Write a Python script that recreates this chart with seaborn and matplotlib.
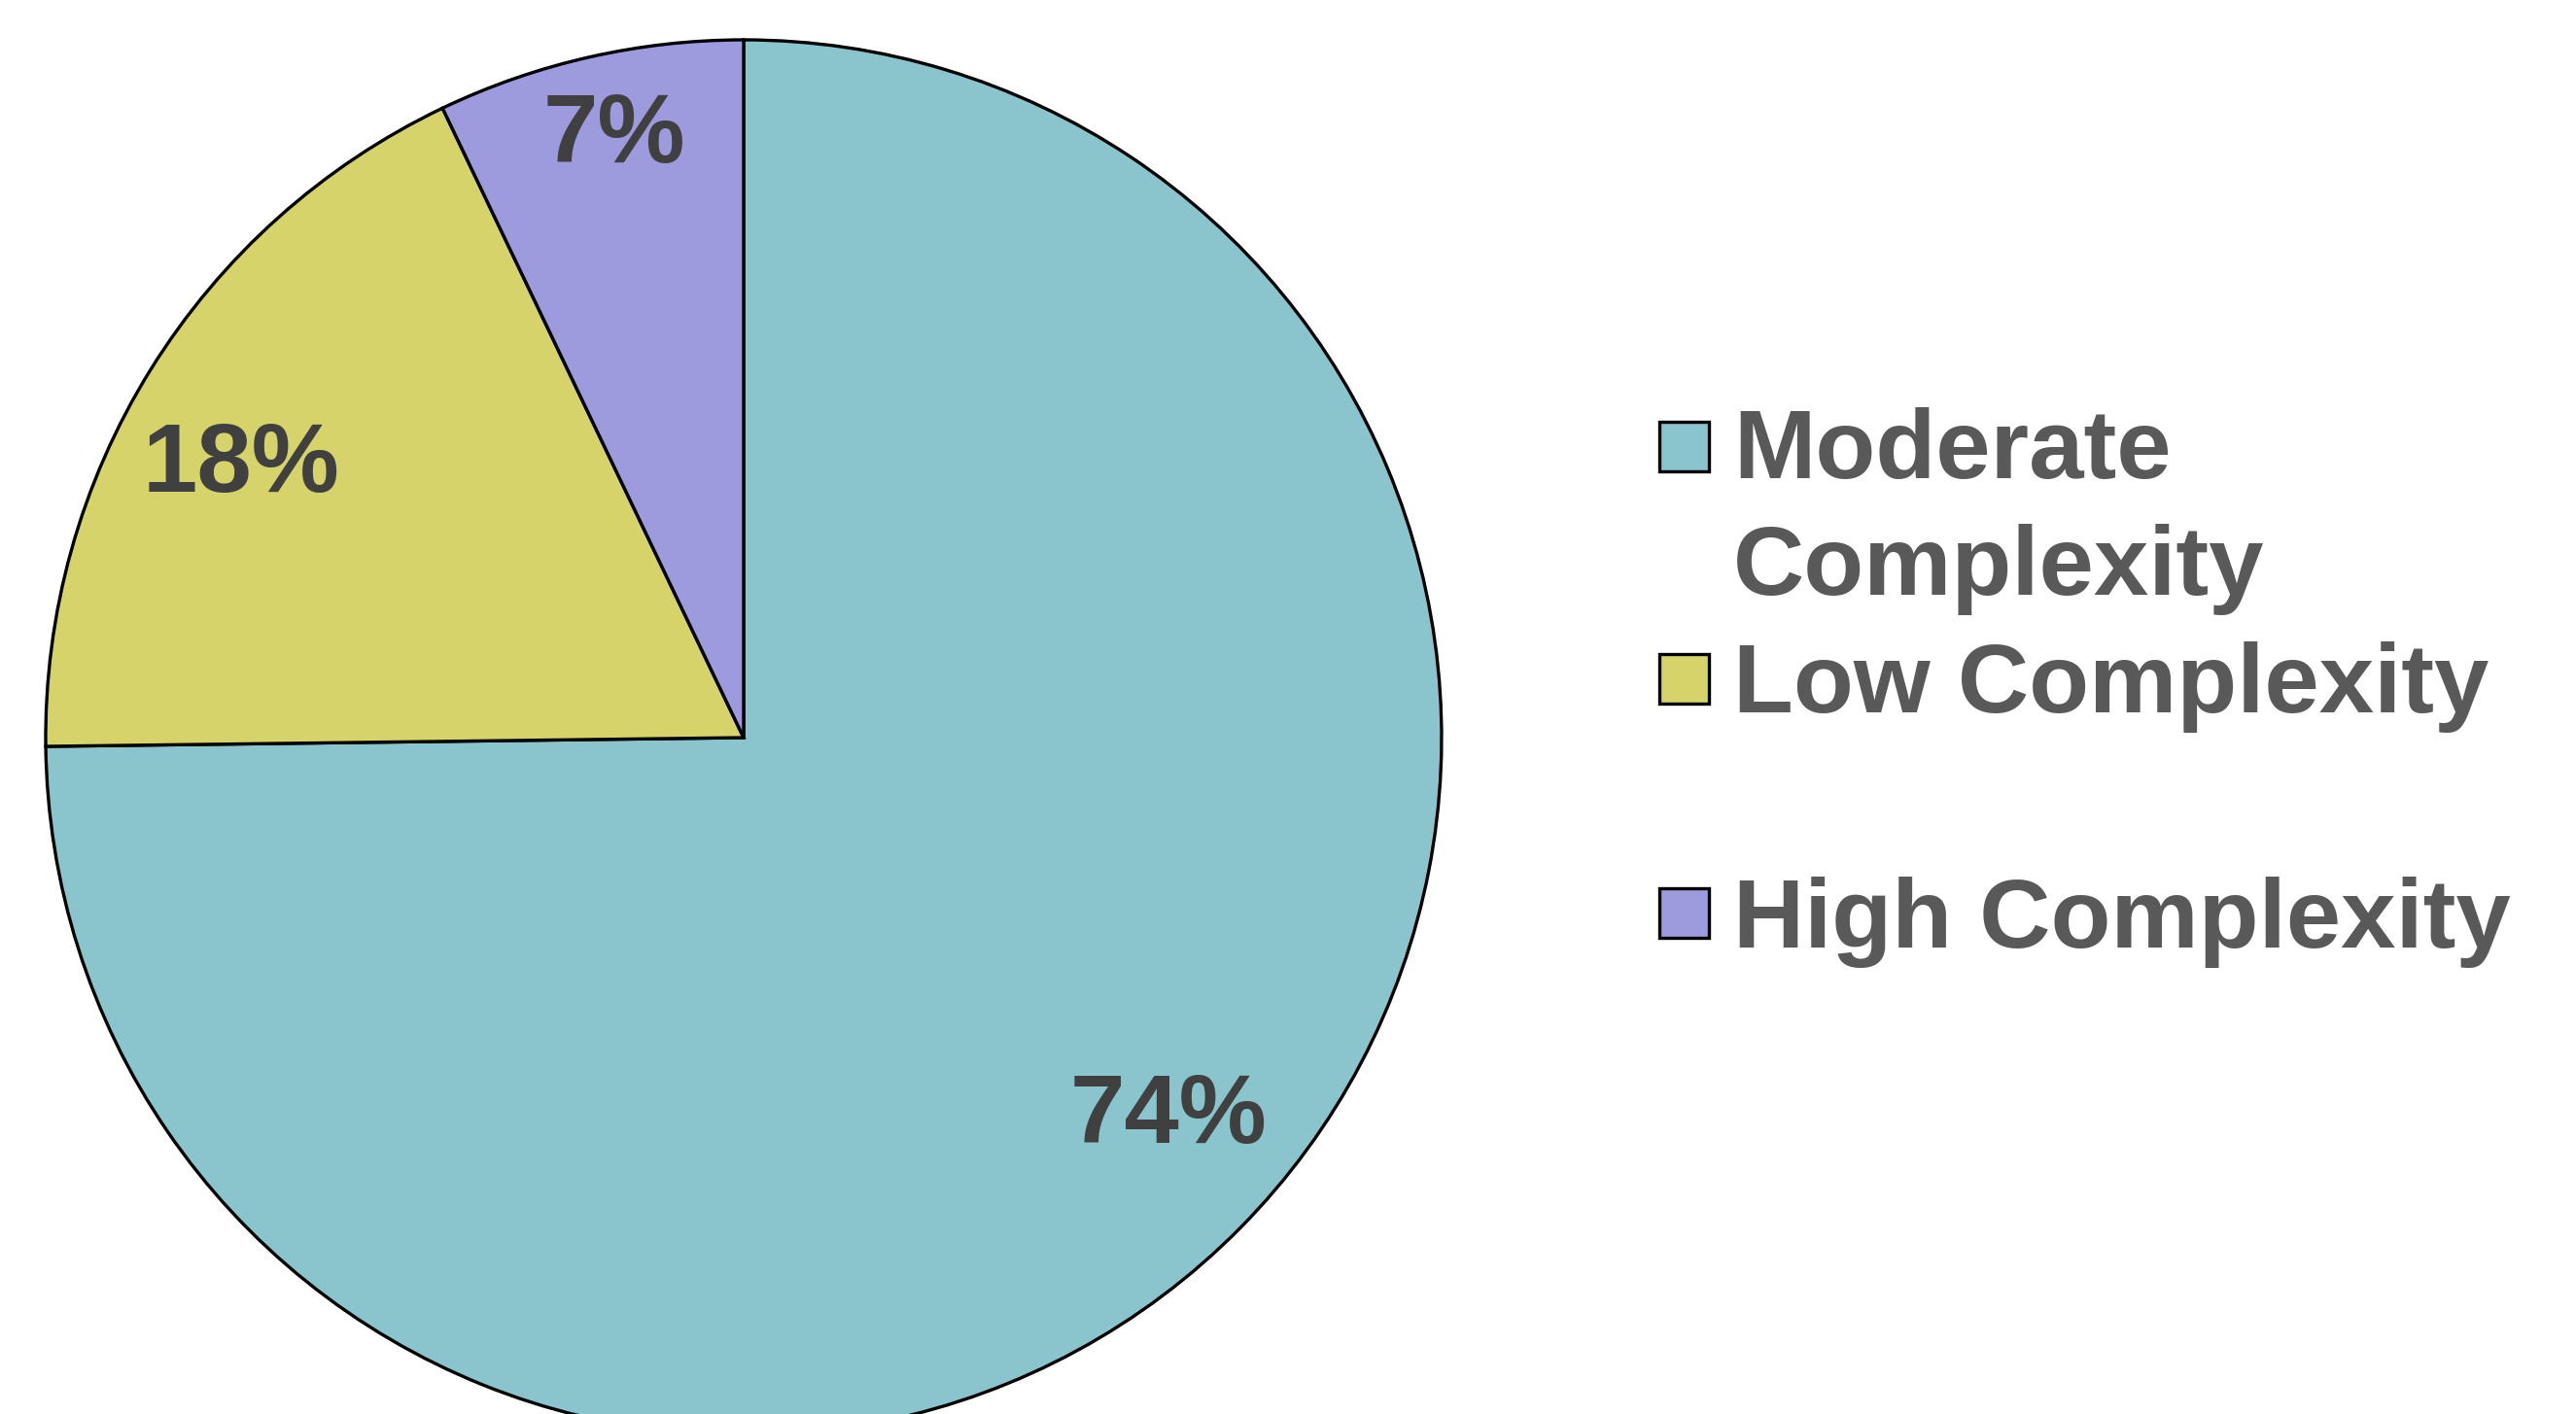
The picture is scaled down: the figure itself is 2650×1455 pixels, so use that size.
import numpy as np
import matplotlib
matplotlib.use("Agg")
import matplotlib.pyplot as plt
from matplotlib.patches import Rectangle
import seaborn as sns

# ----- data -----
categories = ["Moderate\nComplexity", "Low Complexity", "High Complexity"]
shares = [74.8, 18.1, 7.1]
pct_labels = ["74%", "18%", "7%"]
colors = ["#8AC5CE", "#D5D36A", "#9D9BDD"]
# -----------------

sns.set_theme(style="white")
plt.rcParams["font.family"] = ["Liberation Sans", "DejaVu Sans"]

W, H = 2650, 1455
fig = plt.figure(figsize=(W / 100, H / 100), dpi=100)

# pie centre and radius in pixels
cx, cy, R = 765, 759, 718
ax = fig.add_axes([(cx - R) / W, 1 - (cy + R) / H, 2 * R / W, 2 * R / H])

wedges, _ = ax.pie(
    shares, colors=colors, startangle=90, counterclock=False, radius=1,
    wedgeprops=dict(edgecolor="black", linewidth=2.4),
)
for w in wedges:
    w.set_clip_on(False)

# label placement: radial distance and small angular nudge from wedge middle
label_dist = [0.817, 0.819, 0.881]
label_nudge = [2.8, 3.5, -0.6]
for w, txt, d, nd in zip(wedges, pct_labels, label_dist, label_nudge):
    mid = np.deg2rad((w.theta1 + w.theta2) / 2 + nd)
    ax.text(d * np.cos(mid), d * np.sin(mid), txt, ha="center", va="center",
            fontsize=73, fontweight="bold", color="#404040")

ax.set_xlim(-1, 1)
ax.set_ylim(-1, 1)
ax.set_aspect("equal")
ax.axis("off")

# legend drawn by hand to keep Excel-like spacing
patch_tops = [434, 673, 914]
baselines = [612, 733, 975]   # baseline of the last line of each entry
for lab, col, pt, bl in zip(categories, colors, patch_tops, baselines):
    fig.patches.append(Rectangle((1707 / W, 1 - (pt + 51) / H), 51 / W, 51 / H,
                                 transform=fig.transFigure, facecolor=col,
                                 edgecolor="black", linewidth=2.4))
    fig.text(1783 / W, 1 - bl / H, lab, ha="left", va="baseline",
             fontsize=73, fontweight="bold", color="#595959", linespacing=1.35)

fig.savefig("out.png", dpi=100)
